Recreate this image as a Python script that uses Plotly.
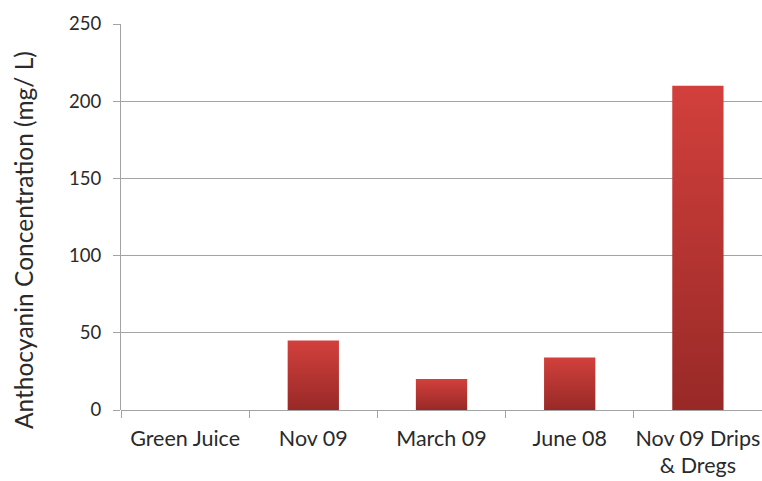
import plotly.graph_objects as go

# Anthocyanin concentration by juice sample
categories = ["Green Juice", "Nov 09", "March 09", "June 08", "Nov 09 Drips<br>& Dregs"]
concentration = [0, 45, 20, 34, 210]
y_ticks = [0, 50, 100, 150, 200, 250]

bar_width = 0.4
grid_color = "#a3a3a3"
text_color = "#2a2a2a"
font_family = "Lato, Open Sans, sans-serif"

fig = go.Figure()

# Each bar is a filled rectangle with a vertical red gradient
for i, v in enumerate(concentration):
    if v <= 0:
        continue
    x0, x1 = i - bar_width / 2, i + bar_width / 2
    fig.add_trace(go.Scatter(
        x=[x0, x0, x1, x1, x0],
        y=[0, v, v, 0, 0],
        mode="lines",
        line=dict(width=0, color="rgba(0,0,0,0)"),
        fill="toself",
        fillgradient=dict(
            type="vertical",
            colorscale=[[0, "#982927"], [1, "#d2403c"]],
        ),
        hoverinfo="skip",
        showlegend=False,
    ))

fig.update_layout(
    width=762,
    height=481,
    margin=dict(l=121, r=0, t=24, b=71),
    paper_bgcolor="white",
    plot_bgcolor="white",
    font=dict(family=font_family, size=18, color=text_color),
    showlegend=False,
    xaxis=dict(
        range=[-0.5, 4.5],
        tickmode="array",
        tickvals=list(range(len(categories))),
        ticktext=categories,
        ticks="",
        ticklabelstandoff=13,
        showgrid=False,
        zeroline=False,
        showline=False,
        minor=dict(
            tickmode="array",
            tickvals=[i - 0.5 for i in range(len(categories) + 1)],
            ticks="outside",
            ticklen=7,
            tickcolor=grid_color,
            tickwidth=1,
            showgrid=False,
        ),
        tickfont=dict(size=21.5, color=text_color),
        fixedrange=True,
    ),
    yaxis=dict(
        range=[0, 250],
        tickmode="array",
        tickvals=y_ticks,
        ticks="outside",
        ticklen=7,
        tickcolor=grid_color,
        ticklabelstandoff=8,
        showgrid=True,
        gridcolor=grid_color,
        gridwidth=1,
        zeroline=True,
        zerolinecolor=grid_color,
        zerolinewidth=1,
        showline=True,
        linecolor=grid_color,
        linewidth=1,
        tickfont=dict(size=18.5, color=text_color),
        fixedrange=True,
    ),
    annotations=[dict(
        text="Anthocyanin Concentration (mg/ L)",
        textangle=-90,
        xref="paper", yref="paper",
        x=-0.153, y=0.44,
        xanchor="center", yanchor="middle",
        showarrow=False,
        font=dict(size=24.5, color=text_color, family=font_family),
    )],
)

fig.write_html("out.html")
